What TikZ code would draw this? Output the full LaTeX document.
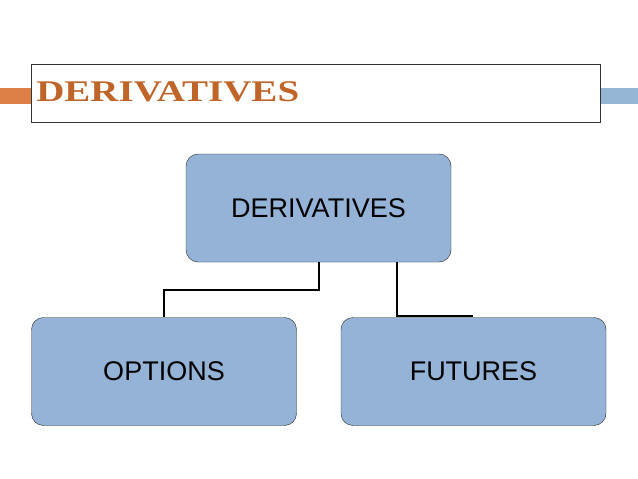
\documentclass[tikz,border=0pt]{standalone}
\usepackage{fontspec}
\setmainfont{Liberation Sans}
\newfontfamily\titlefont{Liberation Serif}
\definecolor{boxfill}{HTML}{95B3D7}
\definecolor{titlec}{HTML}{C0652A}
\definecolor{barL}{HTML}{DD8047}
\definecolor{barR}{HTML}{94B6D2}
\begin{document}
\begin{tikzpicture}[x=1pt,y=-1pt,
  box/.style={draw=black!85,fill=boxfill,rounded corners=12pt,minimum width=265pt,minimum height=108pt,font=\fontsize{27}{30}\selectfont,inner sep=0pt},
  conn/.style={draw=black,line width=1.1pt}]
\useasboundingbox[fill=white] (0,0) rectangle (638,479);
\fill[barL] (0,88) rectangle (31,104);
\fill[barR] (600,88) rectangle (638,104);
\node[draw=black!80,line width=0.6pt,minimum width=569pt,minimum height=58pt,inner sep=0pt] (title) at (315.5,93) {};
\node[anchor=base west,text=titlec,font=\titlefont\bfseries\fontsize{30}{32}\selectfont,inner sep=0pt,xscale=1.3] (tt) at (36,101) {DERIVATIVES};
\node[box] (top) at (318.5,208) {DERIVATIVES};
\node[box] (opt) at (164,371.5) {OPTIONS};
\node[box] (fut) at (473.5,371.5) {FUTURES};
\coordinate (e) at (473,316);
\draw[conn] (top.south -| 319,0) -- (319,290) -- (164,290) -- (opt.north -| 164,0);
\draw[conn] (top.south -| 397,0) -- (397,316) -- (e);
\end{tikzpicture}
\end{document}
